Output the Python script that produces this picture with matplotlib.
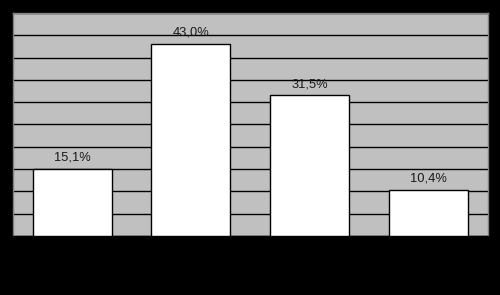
import numpy as np
import matplotlib
matplotlib.use('Agg')
import matplotlib.pyplot as plt

# values (percent)
categories = ['A', 'B', 'C', 'D']
values = [15.1, 43.0, 31.5, 10.4]
labels = ['15,1%', '43,0%', '31,5%', '10,4%']

plt.rcParams['font.family'] = ['Liberation Sans', 'DejaVu Sans']

fig = plt.figure(figsize=(5.0, 2.95), dpi=100, facecolor='black')
ax = fig.add_axes([0.026, 0.2, 0.949, 0.756])
ax.set_facecolor('#c0c0c0')

x = np.arange(len(categories))
ax.bar(x, values, width=0.666, color='white', edgecolor='black', linewidth=1, zorder=3)

for xi, v, lab in zip(x, values, labels):
    ax.text(xi, v + 1.2, lab, ha='center', va='bottom', fontsize=9.3, color='#1a1a1a', zorder=4)

ax.set_xlim(-0.5, 3.5)
ax.set_ylim(0, 50)
ax.set_yticks(np.arange(0, 51, 5))
ax.yaxis.grid(True, color='black', linewidth=1)
ax.set_axisbelow(True)
ax.tick_params(length=0, labelleft=False, labelbottom=False)
for side, sp in ax.spines.items():
    sp.set_color('#808080')
    sp.set_linewidth(1)
ax.spines['bottom'].set_color('black')

fig.savefig('out.png', dpi=100, facecolor='black')
